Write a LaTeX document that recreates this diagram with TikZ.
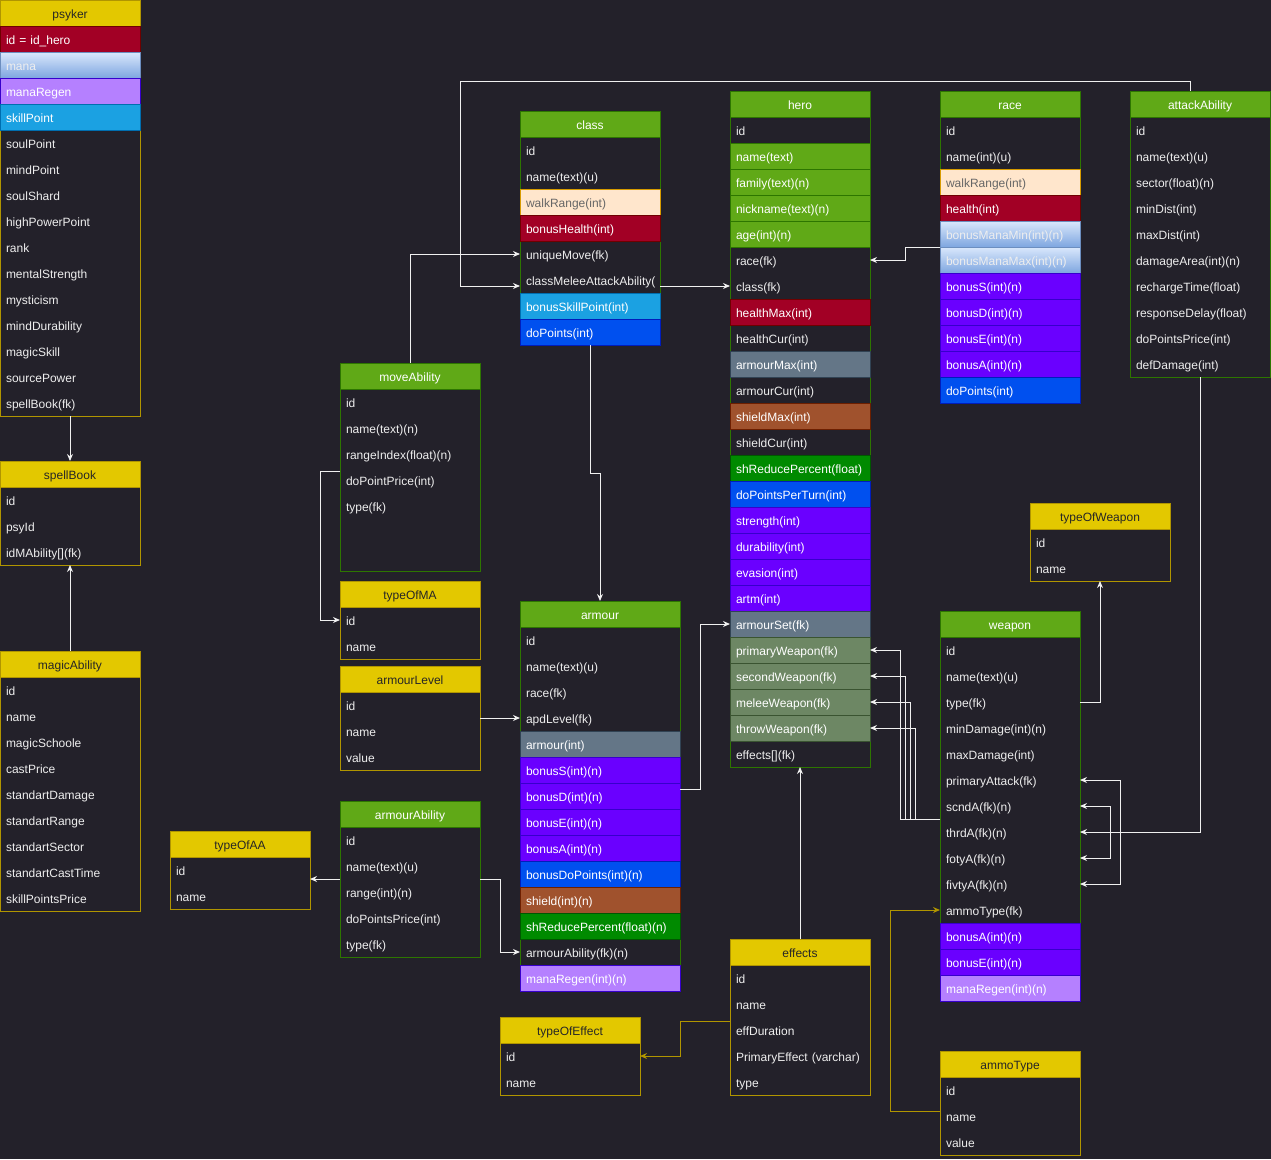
\documentclass[tikz,border=0pt]{standalone}
\usepackage{fontspec}
\setmainfont{Liberation Sans}
\usetikzlibrary{calc, arrows.meta}

\definecolor{canvas}{HTML}{23212A}
\definecolor{txt}{HTML}{EEEEEE}
\definecolor{wire}{HTML}{F0F0F0}
\definecolor{gnfill}{HTML}{60A917}
\definecolor{gnline}{HTML}{2D7600}
\definecolor{ylfill}{HTML}{E3C800}
\definecolor{ylline}{HTML}{B09500}
\definecolor{redfill}{HTML}{A20025}
\definecolor{redline}{HTML}{6F0000}
\definecolor{manatop}{HTML}{DAE8FC}
\definecolor{manabot}{HTML}{7EA6E0}
\definecolor{manaline}{HTML}{6C8EBF}
\definecolor{lilacfill}{HTML}{B580FF}
\definecolor{violetfill}{HTML}{6A00FF}
\definecolor{violetline}{HTML}{3700CC}
\definecolor{skyfill}{HTML}{1BA1E2}
\definecolor{skyline}{HTML}{006EAF}
\definecolor{peachfill}{HTML}{FFE6CC}
\definecolor{peachline}{HTML}{D79B00}
\definecolor{bluefill}{HTML}{0050EF}
\definecolor{blueline}{HTML}{001DBC}
\definecolor{steelfill}{HTML}{647687}
\definecolor{steelline}{HTML}{314354}
\definecolor{brownfill}{HTML}{A0522D}
\definecolor{brownline}{HTML}{6D1F00}
\definecolor{dgreenfill}{HTML}{008A00}
\definecolor{dgreenline}{HTML}{005700}
\definecolor{olivefill}{HTML}{6D8764}
\definecolor{oliveline}{HTML}{3A5431}

\tikzset{
	% table frame and header
	gnframe/.style={draw=gnline, line width=1pt},
	ylframe/.style={draw=ylline, line width=1pt},
	head/.style={
		anchor=north west, rectangle, outer sep=0pt,
		inner xsep=6pt, inner ysep=0pt, minimum height=26pt,
		align=center, text height=11pt, text depth=1pt, line width=1pt
	},
	gnhead/.style={head, fill=gnfill, draw=gnline, text=white},
	ylhead/.style={head, fill=ylfill, draw=ylline, text=black!85},
	% one line of a table
	field/.style={
		anchor=north west, rectangle, outer sep=0pt,
		inner xsep=6pt, inner ysep=0pt, minimum height=26pt,
		align=left, text height=11pt, text depth=1pt, text=txt, line width=1pt
	},
	plain/.style={},
	redcell/.style={fill=redfill, draw=redline, text=white},
	manacell/.style={top color=manatop, bottom color=manabot, draw=manaline, text=txt},
	lilaccell/.style={fill=lilacfill, draw=violetline, text=white},
	skycell/.style={fill=skyfill, draw=skyline, text=white},
	peachcell/.style={fill=peachfill, draw=peachline, text=black!60},
	leafcell/.style={fill=gnfill, draw=gnline, text=white},
	violetcell/.style={fill=violetfill, draw=violetline, text=white},
	bluecell/.style={fill=bluefill, draw=blueline, text=white},
	steelcell/.style={fill=steelfill, draw=steelline, text=white},
	browncell/.style={fill=brownfill, draw=brownline, text=white},
	dgreencell/.style={fill=dgreenfill, draw=dgreenline, text=white},
	olivecell/.style={fill=olivefill, draw=oliveline, text=white},
	% connectors
	link/.style={draw=wire, line width=1pt, -{Stealth[length=7pt, width=6pt]}},
	twoway/.style={link, {Stealth[length=7pt, width=6pt]}-{Stealth[length=7pt, width=6pt]}},
	ylink/.style={link, draw=ylline}
}

% name, top left corner, width, gn/yl, title, lines
\newcommand{\dbtable}[6]{%
	\pgfmathsetmacro{\tw}{#3-12}
	\foreach \rs/\rt [count=\i] in {#6} {\xdef\nrows{\i}}
	\draw[#4frame] (#2) rectangle ++(#3,{26*(\nrows+1)});
	\node[#4head, text width=\tw pt] (#1) at (#2) {#5};
	\foreach \rs/\rt [count=\i] in {#6} {
		\node[field, \rs, text width=\tw pt] (#1-\i) at ($(#2)+(0,26*\i)$) {\rt};
	}
}

\begin{document}
\begin{tikzpicture}[x=1pt, y=-1pt, font=\fontsize{12}{14}\selectfont]
	% fundo
	\useasboundingbox (0,0) rectangle (1271,1159);
	\fill[canvas] (0,0) rectangle (1271,1159);
	
	% psyker
	\dbtable{psyker}{0,0}{140}{yl}{psyker}{redcell/{id = id\_hero}, manacell/mana, lilaccell/manaRegen, skycell/skillPoint, plain/soulPoint, plain/mindPoint, plain/soulShard, plain/highPowerPoint, plain/rank, plain/mentalStrength, plain/mysticism, plain/mindDurability, plain/magicSkill, plain/sourcePower, plain/spellBook(fk)}
	\dbtable{spellBook}{0,461}{140}{yl}{spellBook}{plain/id, plain/psyId, plain/{idMAbility[](fk)}}
	\dbtable{magicAbility}{0,651}{140}{yl}{magicAbility}{plain/id, plain/name, plain/magicSchoole, plain/castPrice, plain/standartDamage, plain/standartRange, plain/standartSector, plain/standartCastTime, plain/skillPointsPrice}
	
	% abilities
	\dbtable{typeOfAA}{170,831}{140}{yl}{typeOfAA}{plain/id, plain/name}
	\dbtable{armourAbility}{340,801}{140}{gn}{armourAbility}{plain/id, plain/name(text)(u), plain/range(int)(n), plain/doPointsPrice(int), plain/type(fk)}
	\dbtable{moveAbility}{340,363}{140}{gn}{moveAbility}{plain/id, plain/name(text)(n), plain/rangeIndex(float)(n), plain/doPointPrice(int), plain/type(fk), plain/{}, plain/{}}
	\dbtable{typeOfMA}{340,581}{140}{yl}{typeOfMA}{plain/id, plain/name}
	\dbtable{armourLevel}{340,666}{140}{yl}{armourLevel}{plain/id, plain/name, plain/value}
	
	% class, armour
	\dbtable{class}{520,111}{140}{gn}{class}{plain/id, plain/name(text)(u), peachcell/walkRange(int), redcell/bonusHealth(int), plain/uniqueMove(fk), plain/classMeleeAttackAbility(, skycell/bonusSkillPoint(int), bluecell/doPoints(int)}
	\dbtable{armour}{520,601}{160}{gn}{armour}{plain/id, plain/name(text)(u), plain/race(fk), plain/apdLevel(fk), steelcell/armour(int), violetcell/bonusS(int)(n), violetcell/bonusD(int)(n), violetcell/bonusE(int)(n), violetcell/bonusA(int)(n), bluecell/bonusDoPoints(int)(n), browncell/shield(int)(n), dgreencell/shReducePercent(float)(n), plain/armourAbility(fk)(n), lilaccell/manaRegen(int)(n)}
	
	% hero
	\dbtable{hero}{730,91}{140}{gn}{hero}{plain/id, leafcell/name(text), leafcell/family(text)(n), leafcell/nickname(text)(n), leafcell/age(int)(n), plain/race(fk), plain/class(fk), redcell/healthMax(int), plain/healthCur(int), steelcell/armourMax(int), plain/armourCur(int), browncell/shieldMax(int), plain/shieldCur(int), dgreencell/shReducePercent(float), bluecell/doPointsPerTurn(int), violetcell/strength(int), violetcell/durability(int), violetcell/evasion(int), violetcell/artm(int), steelcell/armourSet(fk), olivecell/primaryWeapon(fk), olivecell/secondWeapon(fk), olivecell/meleeWeapon(fk), olivecell/throwWeapon(fk), plain/{effects[](fk)}}
	\dbtable{effects}{730,939}{140}{yl}{effects}{plain/id, plain/name, plain/effDuration, plain/PrimaryEffect (varchar), plain/type}
	\dbtable{typeOfEffect}{500,1017}{140}{yl}{typeOfEffect}{plain/id, plain/name}
	
	% race, attackAbility
	\dbtable{race}{940,91}{140}{gn}{race}{plain/id, plain/name(int)(u), peachcell/walkRange(int), redcell/health(int), manacell/bonusManaMin(int)(n), manacell/bonusManaMax(int)(n), violetcell/bonusS(int)(n), violetcell/bonusD(int)(n), violetcell/bonusE(int)(n), violetcell/bonusA(int)(n), bluecell/doPoints(int)}
	\dbtable{attackAbility}{1130,91}{140}{gn}{attackAbility}{plain/id, plain/name(text)(u), plain/sector(float)(n), plain/minDist(int), plain/maxDist(int), plain/damageArea(int)(n), plain/rechargeTime(float), plain/responseDelay(float), plain/doPointsPrice(int), plain/defDamage(int)}
	
	% weapon
	\dbtable{typeOfWeapon}{1030,503}{140}{yl}{typeOfWeapon}{plain/id, plain/name}
	\dbtable{weapon}{940,611}{140}{gn}{weapon}{plain/id, plain/name(text)(u), plain/type(fk), plain/minDamage(int)(n), plain/maxDamage(int), plain/primaryAttack(fk), plain/scndA(fk)(n), plain/thrdA(fk)(n), plain/fotyA(fk)(n), plain/fivtyA(fk)(n), plain/ammoType(fk), violetcell/bonusA(int)(n), violetcell/bonusE(int)(n), lilaccell/manaRegen(int)(n)}
	\dbtable{ammoType}{940,1051}{140}{yl}{ammoType}{plain/id, plain/name, plain/value}
	
	% ligacoes
	\draw[link] (psyker-15.south) -- (spellBook.north);
	\draw[link] (magicAbility.north) -- (spellBook-3.south);
	\draw[link] (armourAbility-2.south west) -- (armourAbility-2.south west -| typeOfAA-1.east);
	\draw[link] (armourAbility-2.south east) -- ++(20,0) |- (armour-13.west);
	\draw[link] ($(moveAbility-3.south west)+(0,4)$) -- ++(-20,0) |- (typeOfMA-1.west);
	\draw[link] (moveAbility.north) |- (class-5.west);
	\draw[link] (armourLevel-1.south east) -- (armour-4.west);
	\draw[link] (class-6.east |- hero-7.west) -- (hero-7.west);
	\coordinate (topBend) at (460,81);
	\draw[link] ($(attackAbility.north)+(-10,0)$) |- (topBend) |- (class.west |- hero-7.west);
	\draw[link] (class-8.south) -- ++(0,128) -| (armour.north);
	\draw[link] (race-5.south west) -- ++(-35,0) |- (hero-6.east);
	\draw[link] ($(armour-6.south east)+(0,6)$) -- ++(20,0) |- (hero-20.west);
	\draw[link] (effects.north) -- (hero-25.south);
	
	% weapon
	\draw[link] (attackAbility-10.south) |- (weapon-8.east);
	\draw[link] (weapon-3.east) -| (typeOfWeapon-2.south);
	\draw[twoway] (weapon-10.east) -- ++(40,0) |- (weapon-6.east);
	\draw[twoway] (weapon-9.east) -- ++(30,0) |- (weapon-7.east);
	\foreach \k/\h in {40/21, 35/22, 30/23, 25/24}
		\draw[link] (weapon-7.south west) -- ++(-\k,0) |- (hero-\h.east);
	
	% amarelas
	\draw[ylink] ($(effects-2.south west)+(0,4)$) -- ++(-50,0) |- (typeOfEffect-1.east);
	\draw[ylink] ($(ammoType-2.west)+(0,-5)$) -- ++(-50,0) |- (weapon-11.west);
\end{tikzpicture}
\end{document}
